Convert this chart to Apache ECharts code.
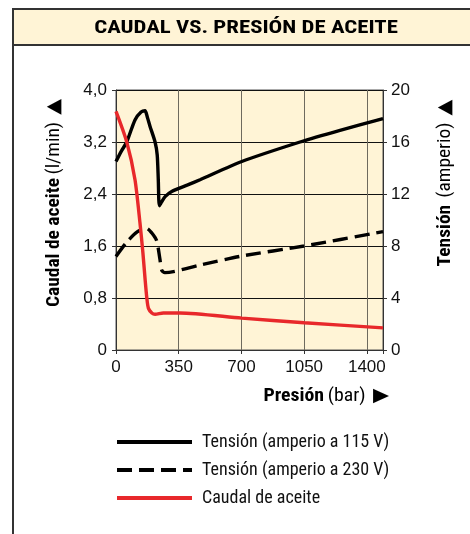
<!DOCTYPE html>
<html><head><meta charset="utf-8">
<script src="https://cdn.jsdelivr.net/npm/echarts@6/dist/echarts.min.js"></script>
<style>html,body{margin:0;padding:0;background:#fff}#c{width:470px;height:534px}</style>
</head><body><div id="c"></div>
<script>
const title = 'CAUDAL VS. PRESIÓN DE ACEITE';
const seriesNames = ['Tensión (amperio a 115 V)', 'Tensión (amperio a 230 V)', 'Caudal de aceite'];
const xTicks = [0, 350, 700, 1050, 1400];
const leftTicks = [0, 0.8, 1.6, 2.4, 3.2, 4.0];
const rightTicks = [0, 4, 8, 12, 16, 20];

const presion115 = [0, 30, 60, 106, 140, 162, 175, 190, 218, 230, 236, 242, 255, 274, 311, 400, 469, 702, 1027, 1250, 1490];
const tension115 = [14.5, 15.3, 16.0, 17.7, 18.3, 18.4, 17.9, 17.2, 16.0, 15.0, 13.1, 11.1, 11.4, 11.8, 12.2, 12.7, 13.1, 14.5, 16.0, 16.9, 17.8];

const presion230 = [0, 60, 120, 171, 200, 227, 245, 255, 273, 469, 702, 1050, 1490];
const tension230 = [7.2, 8.3, 9.1, 9.36, 9.0, 8.4, 7.0, 6.15, 5.95, 6.54, 7.23, 8.0, 9.1];

const presionCaudal = [0, 60, 106, 134, 150, 162, 172, 181, 200, 218, 264, 357, 702, 1050, 1490];
const caudal = [3.67, 3.2, 2.62, 1.95, 1.5, 1.1, 0.8, 0.64, 0.57, 0.55, 0.57, 0.57, 0.49, 0.42, 0.34];

const zip = (xs, ys) => xs.map((x, i) => [x, ys[i]]);
const NARROW = '"Roboto Condensed","Liberation Sans Narrow","Arial Narrow",sans-serif';
const REG = '"Liberation Sans",Arial,sans-serif';
const cream = '#FFF4D6';
const richName = {
  b: {font: 'bold 18px ' + NARROW, fill: '#000'},
  r: {font: '18px ' + NARROW, fill: '#000'},
  t: {font: '19px "DejaVu Sans",sans-serif', fill: '#000'}
};

const chart = echarts.init(document.getElementById('c'), null, {renderer: 'canvas'});
chart.setOption({
  animation: false,
  backgroundColor: '#fff',
  grid: {left: 116, top: 90, right: 87, bottom: 184, show: true, backgroundColor: cream, borderColor: '#555', borderWidth: 1},
  xAxis: {
    type: 'value', min: 0, max: 1490, interval: 350,
    axisLine: {show: true, lineStyle: {color: '#333', width: 1}},
    axisTick: {show: true, length: 4, lineStyle: {color: '#333'}},
    splitLine: {show: true, lineStyle: {color: '#6e6a5e', width: 1}},
    axisLabel: {color: '#111', fontSize: 17, fontFamily: REG, margin: 9,
      formatter: v => xTicks.includes(v) ? String(v) : ''},
  },
  yAxis: [{
    type: 'value', min: 0, max: 4, interval: 0.8, position: 'left',
    axisLine: {show: true, lineStyle: {color: '#333'}},
    axisTick: {show: true, length: 4, lineStyle: {color: '#333'}},
    splitLine: {show: true, lineStyle: {color: '#111', width: 1}},
    axisLabel: {color: '#111', fontSize: 17, fontFamily: REG, margin: 9,
      formatter: v => { const t = leftTicks.find(t => Math.abs(t - v) < 1e-6); return t === 0 ? '0' : t.toFixed(1).replace('.', ','); }},
  }, {
    type: 'value', min: 0, max: 20, interval: 4, position: 'right',
    axisLine: {show: true, lineStyle: {color: '#333'}},
    axisTick: {show: true, length: 4, lineStyle: {color: '#333'}},
    splitLine: {show: false},
    axisLabel: {color: '#111', fontSize: 17, fontFamily: REG, margin: 8,
      formatter: v => String(rightTicks.find(t => Math.abs(t - v) < 1e-6))},
  }],
  legend: {
    orient: 'vertical', left: 110, top: 428, itemWidth: 75, itemHeight: 18, itemGap: 10,
    itemStyle: {opacity: 0},
    lineStyle: {width: 4},
    textStyle: {fontFamily: NARROW, fontSize: 18, color: '#111', padding: [0, 0, 0, 5]},
    data: seriesNames,
  },
  series: [
    {name: seriesNames[0], type: 'line', yAxisIndex: 1, data: zip(presion115, tension115), smooth: 0.25, showSymbol: false, symbol: 'none',
      lineStyle: {color: '#000', width: 3.4}, itemStyle: {color: '#000'}},
    {name: seriesNames[1], type: 'line', yAxisIndex: 1, data: zip(presion230, tension230), smooth: 0.25, showSymbol: false, symbol: 'none',
      lineStyle: {color: '#000', width: 3.4, type: [15, 7]}, itemStyle: {color: '#000'}},
    {name: seriesNames[2], type: 'line', yAxisIndex: 0, data: zip(presionCaudal, caudal), smooth: 0.25, showSymbol: false, symbol: 'none',
      lineStyle: {color: '#E8282B', width: 3.4}, itemStyle: {color: '#E8282B'}},
  ],
  graphic: [
    {type: 'rect', z: -10, shape: {x: 13, y: 9, width: 470, height: 36}, style: {fill: cream, stroke: '#333', lineWidth: 2}},
    {type: 'line', z: -10, shape: {x1: 13, y1: 9, x2: 13, y2: 534}, style: {stroke: '#333', lineWidth: 2}},
    {type: 'text', x: 246, y: 28, scaleX: 1.2, style: {text: title, font: 'bold 19px ' + NARROW, fill: '#000', align: 'center', verticalAlign: 'middle'}},
    {type: 'text', x: 54, y: 203, rotation: Math.PI / 2, scaleX: 1.08, style: {
      text: '{b|Caudal de aceite} {r|(l/min)}  {t|▲}', align: 'center', verticalAlign: 'middle', rich: richName}},
    {type: 'text', x: 445, y: 183, rotation: Math.PI / 2, scaleX: 1.08, style: {
      text: '{b|Tensión}  {r|(amperio)}  {t|▲}', align: 'center', verticalAlign: 'middle', rich: richName}},
    {type: 'text', x: 389, y: 396, scaleX: 1.1, style: {
      text: '{b|Presión} {r|(bar)}  {t|▶}', align: 'right', verticalAlign: 'middle', rich: richName}},
  ],
});
</script></body></html>
